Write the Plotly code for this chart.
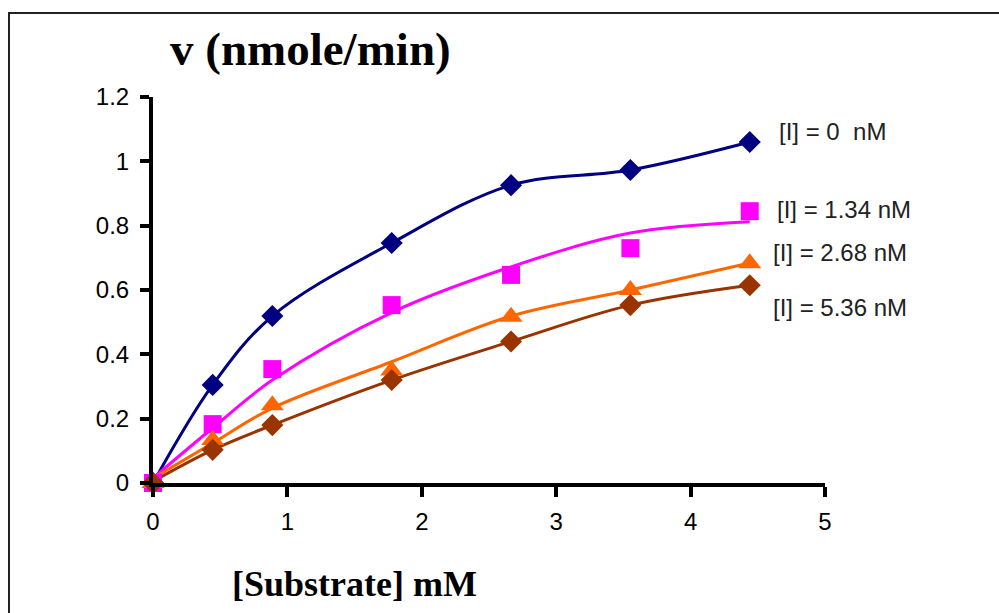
import plotly.graph_objects as go

# ---- data ----
substrate = [0, 0.444, 0.888, 1.776, 2.664, 3.552, 4.44]
v_i0 = [0.0, 0.305, 0.519, 0.746, 0.926, 0.973, 1.06]
v_i134 = [0.0, 0.183, 0.354, 0.553, 0.647, 0.73, 0.845]
v_i268 = [0.0, 0.134, 0.242, 0.35, 0.517, 0.60, 0.683]
v_i536 = [0.0, 0.103, 0.18, 0.32, 0.44, 0.553, 0.615]
# fitted trend curves
fit_i134 = [0.015, 0.171, 0.32, 0.53, 0.672, 0.777, 0.812]
fit_i268 = [0.015, 0.124, 0.233, 0.377, 0.519, 0.60, 0.684]
fit_i536 = [0.005, 0.103, 0.18, 0.32, 0.44, 0.553, 0.615]
labels = ["[I] = 0  nM", "[I] = 1.34 nM", "[I] = 2.68 nM", "[I] = 5.36 nM"]
x_ticks = [0, 1, 2, 3, 4, 5]
y_ticks = [0, 0.2, 0.4, 0.6, 0.8, 1, 1.2]
y_ticklabels = ["0", "0.2", "0.4", "0.6", "0.8", "1", "1.2"]

NAVY = "#000080"
MAG = "#FF00FF"
ORG = "#FF6600"
BRN = "#993300"

W, H = 999, 613
L, R, T, B = 153, 825, 97, 483


def px(xp):
    return (xp - L) / (R - L)


def py(yp):
    return (B - yp) / (B - T)


fig = go.Figure()

# lines
for ys, col in [(v_i0, NAVY), (fit_i134, MAG), (fit_i268, ORG), (fit_i536, BRN)]:
    fig.add_trace(go.Scatter(x=substrate, y=ys, mode="lines",
                             line=dict(color=col, width=3, shape="spline", smoothing=1.0),
                             cliponaxis=False, showlegend=False))

# markers
fig.add_trace(go.Scatter(x=substrate, y=v_i0, mode="markers",
                         marker=dict(symbol="diamond", size=17, color=NAVY),
                         cliponaxis=False, showlegend=False))
fig.add_trace(go.Scatter(x=substrate, y=v_i134, mode="markers",
                         marker=dict(symbol="square", size=18, color=MAG),
                         cliponaxis=False, showlegend=False))
fig.add_trace(go.Scatter(x=substrate, y=v_i268, mode="markers",
                         marker=dict(symbol="triangle-up", size=20, color=ORG),
                         cliponaxis=False, showlegend=False))
fig.add_trace(go.Scatter(x=substrate, y=v_i536, mode="markers",
                         marker=dict(symbol="diamond", size=17, color=BRN),
                         cliponaxis=False, showlegend=False))

# series labels
label_pos = [(777, 131), (775, 209), (771, 252), (771, 307)]
for txt, (lx, ly) in zip(labels, label_pos):
    fig.add_annotation(text=txt, xref="paper", yref="paper", x=px(lx), y=py(ly),
                       xanchor="left", yanchor="middle", showarrow=False,
                       font=dict(family="Liberation Sans, Arial", size=24, color="#222222"))

# titles
fig.add_annotation(text="<b>v (nmole/min)</b>", xref="paper", yref="paper",
                   x=px(310), y=py(49), xanchor="center", yanchor="middle", showarrow=False,
                   font=dict(family="Liberation Serif, Times New Roman", size=47, color="black"))
fig.add_annotation(text="<b>[Substrate] mM</b>", xref="paper", yref="paper",
                   x=px(354), y=py(584), xanchor="center", yanchor="middle", showarrow=False,
                   font=dict(family="Liberation Serif, Times New Roman", size=36, color="black"))

# border frame
fig.add_shape(type="rect", xref="paper", yref="paper",
              x0=px(9), x1=px(1010), y0=py(625), y1=py(13),
              line=dict(color="#222222", width=2), fillcolor="rgba(0,0,0,0)", layer="below")

fig.update_layout(
    width=W, height=H,
    margin=dict(l=L, r=W - R, t=T, b=H - B, pad=0),
    paper_bgcolor="white", plot_bgcolor="white",
    xaxis=dict(range=[0, 5], tickvals=x_ticks, ticktext=[str(t) for t in x_ticks],
               showgrid=False, zeroline=False, showline=True, linecolor="black", linewidth=4,
               ticks="outside", ticklen=10, tickwidth=4, tickcolor="black",
               ticklabelstandoff=4,
               tickfont=dict(family="Liberation Sans, Arial", size=24, color="black")),
    yaxis=dict(range=[0, 1.2], tickvals=y_ticks, ticktext=y_ticklabels,
               showgrid=False, zeroline=False, showline=True, linecolor="black", linewidth=4,
               ticks="outside", ticklen=9, tickwidth=4, tickcolor="black",
               ticklabelstandoff=6,
               tickfont=dict(family="Liberation Sans, Arial", size=24, color="black")),
)

fig.write_html("out.html")
